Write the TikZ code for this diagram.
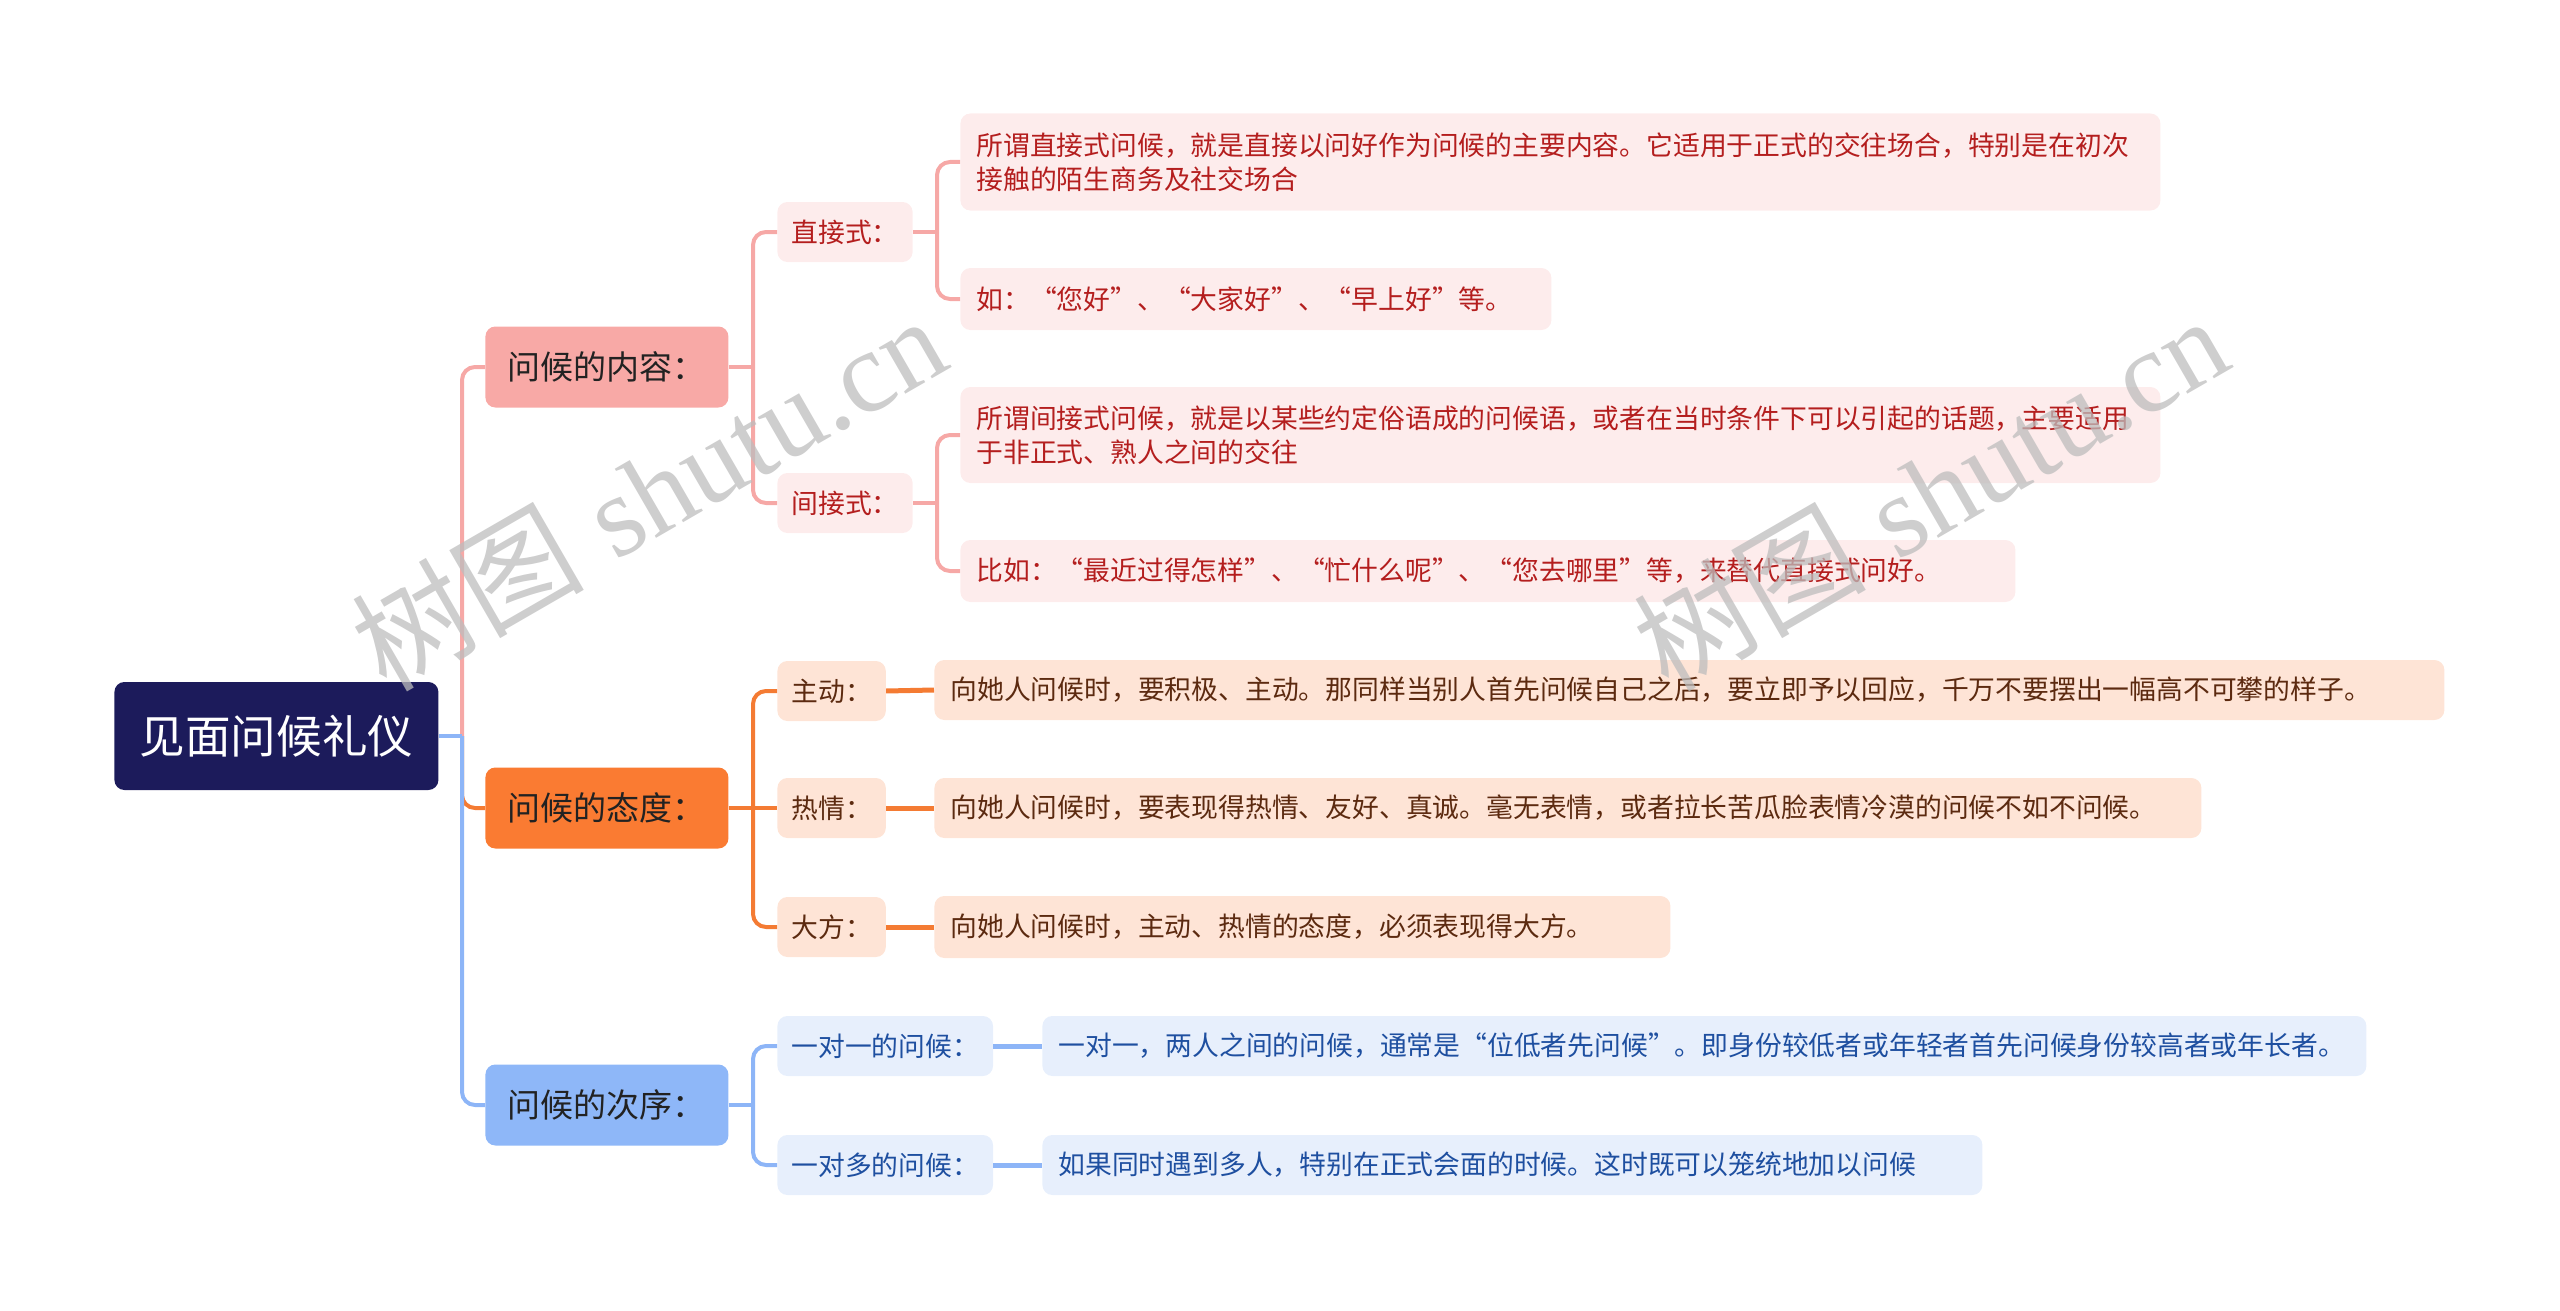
\documentclass[tikz,border=0pt]{standalone}
\usepackage{fontspec}
\setmainfont{Liberation Sans}
\newfontfamily\cjk{Noto Sans CJK SC}
\newfontfamily\wmfont{Liberation Serif}
\definecolor{rootc}{HTML}{1C1B5B}
\definecolor{pinkM}{HTML}{F8A9A6}
\definecolor{pinkL}{HTML}{FDECEC}
\definecolor{pinkT}{HTML}{B41E1E}
\definecolor{pinkLine}{HTML}{F6A8A6}
\definecolor{orM}{HTML}{FA7B32}
\definecolor{orL}{HTML}{FEE4D6}
\definecolor{orT}{HTML}{5C2A10}
\definecolor{orLine}{HTML}{F47B33}
\definecolor{blM}{HTML}{8EB7F8}
\definecolor{blL}{HTML}{E7EFFC}
\definecolor{blT}{HTML}{1E4FA0}
\definecolor{blLine}{HTML}{8DB5F7}
\definecolor{mainT}{HTML}{222222}
\definecolor{wmc}{HTML}{BDBDBD}
\begin{document}
\begin{tikzpicture}[x=0.5pt,y=-0.5pt,
  base/.style={rounded corners=5pt, inner ysep=0pt, anchor=west},
  rootbox/.style={base, fill=rootc, text=white, minimum width=162pt, minimum height=54pt,
     font=\cjk\fontsize{22.8}{27}\selectfont, align=center},
  lone/.style={base, minimum width=121.5pt, minimum height=40.5pt, text=mainT,
     font=\cjk\fontsize{16.5}{20}\selectfont, align=center},
  ltwo/.style={base, inner xsep=7pt, minimum height=30pt, font=\cjk\fontsize{13.4}{17}\selectfont},
  lthree/.style={base, inner xsep=8pt, align=left, font=\cjk\fontsize{13.4}{17}\selectfont},
  pk/.style={fill=pinkL, text=pinkT},
  og/.style={fill=orL, text=orT},
  bl/.style={fill=blL, text=blT},
  conn/.style={line width=2pt, rounded corners=6.5pt},
  pkline/.style={conn, draw=pinkLine},
  ogline/.style={conn, draw=orLine},
  blline/.style={conn, draw=blLine},
  wm/.style={rotate=30, text=wmc, opacity=0.75}
]
\useasboundingbox (0,0) rectangle (2560,1311);

% root and level 1
\node[rootbox] (root) at (114,736) {见面问候礼仪};
\node[lone, fill=pinkM] (c1) at (485,367) {问候的内容：};
\node[lone, fill=orM] (c2) at (485,808) {问候的态度：};
\node[lone, fill=blM] (c3) at (485,1105) {问候的次序：};

% level 2
\node[ltwo, pk] (b1) at (777,232) {直接式：};
\node[ltwo, pk] (b2) at (777,503) {间接式：};
\node[ltwo, og] (b3) at (777,691) {主动：};
\node[ltwo, og] (b4) at (777,808) {热情：};
\node[ltwo, og] (b5) at (777,927) {大方：};
\node[ltwo, bl] (b6) at (777,1046) {一对一的问候：};
\node[ltwo, bl] (b7) at (777,1165) {一对多的问候：};

% level 3
\node[lthree, pk, text width=584pt, minimum height=48.5pt] (d1) at (960,162)
  {所谓直接式问候，就是直接以问好作为问候的主要内容。它适用于正式的交往场合，特别是在初次\\接触的陌生商务及社交场合};
\node[lthree, pk, text width=279.5pt, minimum height=31pt] (d2) at (960,299)
  {如：“您好”、“大家好”、“早上好”等。};
\node[lthree, pk, text width=584pt, minimum height=48pt] (d3) at (960,435)
  {所谓间接式问候，就是以某些约定俗语成的问候语，或者在当时条件下可以引起的话题，主要适用\\于非正式、熟人之间的交往};
\node[lthree, pk, text width=511.5pt, minimum height=31pt] (d4) at (960,571)
  {比如：“最近过得怎样”、“忙什么呢”、“您去哪里”等，来替代直接式问好。};
\node[lthree, og, text width=739pt, minimum height=30pt] (d5) at (934,690)
  {向她人问候时，要积极、主动。那同样当别人首先问候自己之后，要立即予以回应，千万不要摆出一幅高不可攀的样子。};
\node[lthree, og, text width=617.5pt, minimum height=30pt] (d6) at (934,808)
  {向她人问候时，要表现得热情、友好、真诚。毫无表情，或者拉长苦瓜脸表情冷漠的问候不如不问候。};
\node[lthree, og, text width=352pt, minimum height=31pt] (d7) at (934,927)
  {向她人问候时，主动、热情的态度，必须表现得大方。};
\node[lthree, bl, text width=646pt, minimum height=30pt] (d8) at (1042,1046)
  {一对一，两人之间的问候，通常是“位低者先问候”。即身份较低者或年轻者首先问候身份较高者或年长者。};
\node[lthree, bl, text width=454pt, minimum height=30pt] (d9) at (1042,1165)
  {如果同时遇到多人，特别在正式会面的时候。这时既可以笼统地加以问候};

% connectors root -> level 1
\coordinate (j0) at (462,736);
\draw[pkline] (j0) |- (c1.west);
\draw[ogline] (j0) |- (c2.west);
\draw[blline] (j0) |- (c3.west);
\draw[blline] (root.east) -- (j0);

% level 1 -> level 2
\coordinate (j1) at (753,367);
\coordinate (j2) at (753,808);
\coordinate (j3) at (753,1105);
\draw[pkline] (c1.east) -- (j1);
\draw[pkline] (j1) |- (b1.west);
\draw[pkline] (j1) |- (b2.west);
\draw[ogline] (j2) |- (b3.west);
\draw[ogline] (j2) |- (b5.west);
\draw[ogline] (c2.east) -- (b4.west);
\draw[blline] (c3.east) -- (j3);
\draw[blline] (j3) |- (b6.west);
\draw[blline] (j3) |- (b7.west);

% level 2 -> level 3
\coordinate (k1) at (937,232);
\coordinate (k2) at (937,503);
\draw[pkline] (b1.east) -- (k1);
\draw[pkline] (k1) |- (d1.west);
\draw[pkline] (k1) |- (d2.west);
\draw[pkline] (b2.east) -- (k2);
\draw[pkline] (k2) |- (d3.west);
\draw[pkline] (k2) |- (d4.west);
\draw[ogline, line width=2.5pt] (b3.east) -- (d5.west);
\draw[ogline, line width=2.5pt] (b4.east) -- (d6.west);
\draw[ogline, line width=2.5pt] (b5.east) -- (d7.west);
\draw[blline, line width=2.5pt] (b6.east) -- (d8.west);
\draw[blline, line width=2.5pt] (b7.east) -- (d9.west);

% watermarks
\node[wm] (wm1) at (648,492) {\fontsize{58}{66}\selectfont{\cjk 树图} {\wmfont shutu.cn}};
\node[wm] (wm2) at (1930,492) {\fontsize{58}{66}\selectfont{\cjk 树图} {\wmfont shutu.cn}};
\end{tikzpicture}
\end{document}
